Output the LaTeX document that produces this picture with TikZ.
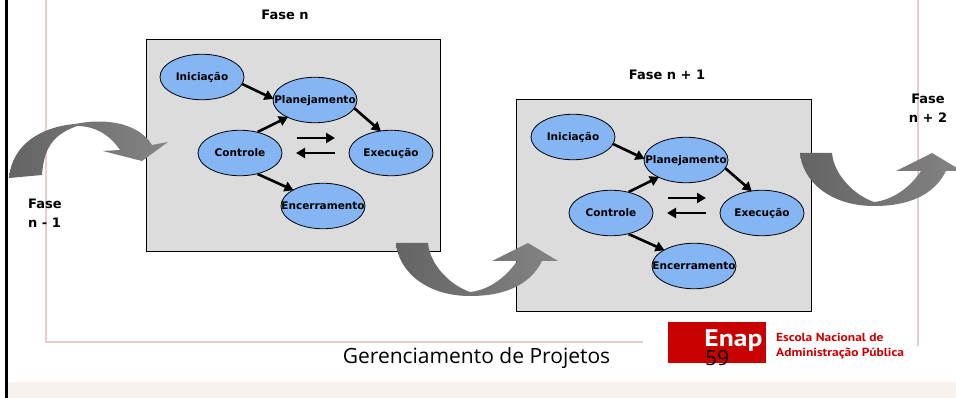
\documentclass[tikz,border=0pt]{standalone}
\usepackage{fontspec}
\setmainfont{DejaVu Sans}
\newfontfamily\footfont{Open Sans}
\newfontfamily\logofont[FakeStretch=1.15]{PT Sans}
\usetikzlibrary{shapes.geometric,arrows.meta}
\definecolor{frame}{HTML}{E8CDCD}
\definecolor{band}{HTML}{F7F2EE}
\definecolor{boxgray}{HTML}{DCDCDC}
\definecolor{ellblue}{HTML}{85B5F2}
\definecolor{enapred}{HTML}{C80000}
\definecolor{swdark}{HTML}{646464}
\definecolor{swlight}{HTML}{848484}
\tikzset{
  phasebox/.style={draw=black,line width=0.8pt,fill=boxgray},
  ell/.style={ellipse,draw=black,line width=0.8pt,fill=ellblue,minimum width=84pt,minimum height=45.5pt,inner sep=0pt,font=\bfseries\fontsize{10.5}{12}\selectfont},
  flow/.style={line width=2.6pt,-{Triangle[length=9pt,width=10pt]},shorten >=-1pt},
  lab/.style={font=\bfseries\fontsize{13}{19}\selectfont,inner sep=0pt},
  swoosh/.style={left color=swdark,right color=swlight,draw=none},
  frameline/.style={draw=frame,line width=1.4pt}
}
\newcommand{\ph}[1]{\makebox[0pt]{\raisebox{-3.8pt}[0pt][0pt]{#1}}}
\newcommand{\phasediagram}{%
  \node[ell] (ini) at (202,77) {\ph{Iniciação}};
  \node[ell] (pla) at (315,100) {\ph{Planejamento}};
  \node[ell] (con) at (240,153) {\ph{Controle}};
  \node[ell] (exe) at (391,153) {\ph{Execução}};
  \node[ell] (enc) at (323,206) {\ph{Encerramento}};
  \coordinate (fa) at (297,138); \coordinate (fb) at (334,138);
  \coordinate (ba) at (335,153); \coordinate (bb) at (297,153);
  \draw[flow] (ini.-10) -- (pla.178);
  \draw[flow] (pla.-12) -- (exe.116);
  \draw[flow] (con.50) -- (pla.212);
  \draw[flow] (con.-50) -- (enc.152);
  \draw[flow] (fa) -- (fb);
  \draw[flow] (ba) -- (bb);
}
\newcommand{\downup}{%
  \path[swoosh] (396,243) .. controls (398,270) and (425,296) .. (470,296)
    .. controls (505,296) and (530,285) .. (542,261)
    -- (558,261) -- (528,243) -- (492,261) -- (517,261)
    .. controls (507,276) and (490,290) .. (470,292)
    .. controls (450,285) and (430,265) .. (428,243) -- cycle;
}
\begin{document}
\begin{tikzpicture}[x=1pt,y=-1pt]
\useasboundingbox (0,0) rectangle (956,398);
\clip (0,0) rectangle (956,398);
\fill[white] (0,0) rectangle (956,398);
\fill[band] (8,382) rectangle (956,398);
\fill[black] (5,0) rectangle (8,398);
\coordinate (fl1) at (46,0); \coordinate (fl2) at (46,342); \coordinate (fl3) at (643,342);
\coordinate (fr1) at (918,0); \coordinate (fr2) at (918,346);
\draw[frameline] (fl1) -- (fl2) -- (fl3);
\draw[frameline] (fr1) -- (fr2);

% phase boxes
\node[phasebox,minimum width=294.5pt,minimum height=211.5pt,inner sep=0pt,anchor=north west] (box1) at (145.5,39.5) {};
\node[phasebox,minimum width=295pt,minimum height=211.5pt,inner sep=0pt,anchor=north west] (box2) at (516,99.5) {};
\begin{scope}[name prefix=a-]\phasediagram\end{scope}
\begin{scope}[shift={(371,60)},name prefix=b-]\phasediagram\end{scope}

% curved arrows
\path[swoosh] (9,178) .. controls (12,145) and (40,127) .. (75,124)
  .. controls (110,117) and (140,125) .. (152,145)
  -- (168,142) -- (142,161) -- (103,151) -- (120,150)
  .. controls (110,135) and (95,126) .. (77,126)
  .. controls (58,133) and (44,143) .. (42,175) -- cycle;
\downup
\begin{scope}[shift={(404,-90)}]\downup\end{scope}

% labels
\node[lab] (l1) at (285,15) {Fase n};
\node[lab] (l2) at (667,75) {Fase n + 1};
\node[lab,align=center] (l3) at (928,108) {Fase\\n + 2};
\node[lab,align=left,anchor=west] (l4) at (28,213.5) {Fase\\n - 1};

% footer
\node[fill=enapred,minimum width=98pt,minimum height=41pt,inner sep=0pt,anchor=north west] (logo) at (668,322) {};
\node[inner sep=0pt,text=white,font=\logofont\bfseries\fontsize{24}{25}\selectfont] (enap) at (733.5,340) {Enap};
\node[inner sep=0pt,anchor=west,align=left,text=enapred,font=\logofont\bfseries\fontsize{11.7}{15}\selectfont] (esc) at (776,346) {Escola Nacional de\\Administração Pública};
\node[inner sep=0pt,font=\footfont\fontsize{21}{24}\selectfont] (ger) at (476.5,358) {Gerenciamento de Projetos};
\node[inner sep=0pt,font=\footfont\fontsize{21}{24}\selectfont] (num) at (717,358) {59};
\end{tikzpicture}
\end{document}
